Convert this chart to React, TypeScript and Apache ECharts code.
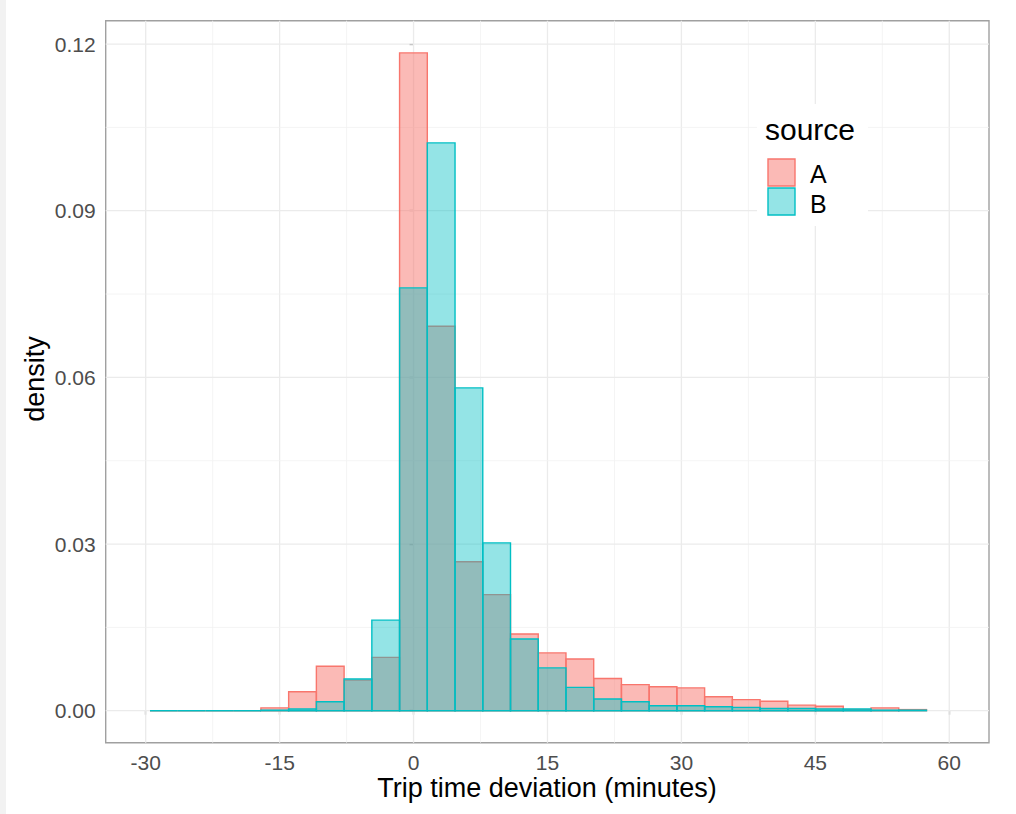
import React, { useEffect, useRef } from "react";
import * as echarts from "echarts";

// Histogram bin edges (minutes) – 28 bins
const binEdges = [
  -29.52, -26.414, -23.308, -20.202, -17.096, -13.99, -10.884, -7.778, -4.672,
  -1.566, 1.54, 4.646, 7.752, 10.858, 13.964, 17.07, 20.176, 23.282, 26.388,
  29.494, 32.6, 35.706, 38.812, 41.918, 45.024, 48.13, 51.236, 54.342, 57.448,
];

// Density per bin, source A
const densityA = [
  0, 0, 0, 0, 0.0005, 0.0034, 0.008, 0.0055, 0.0096, 0.1184, 0.0692, 0.0268,
  0.0209, 0.0138, 0.0104, 0.0093, 0.0058, 0.0047, 0.0043, 0.0041, 0.0025,
  0.002, 0.0017, 0.001, 0.0008, 0.0002, 0.0005, 0.0002,
];

// Density per bin, source B
const densityB = [
  0, 0, 0, 0, 0.0001, 0.0003, 0.0016, 0.0057, 0.0163, 0.0761, 0.1022, 0.0581,
  0.0302, 0.0129, 0.0077, 0.0042, 0.0021, 0.0016, 0.0009, 0.0009, 0.0007,
  0.0006, 0.0004, 0.0004, 0.0003, 0.0003, 0.0001, 0.0001,
];

const xTicks = [-30, -15, 0, 15, 30, 45, 60];
const xMinor = [-22.5, -7.5, 7.5, 22.5, 37.5, 52.5];
const yTicks = [0, 0.03, 0.06, 0.09, 0.12];
const yMinor = [0.015, 0.045, 0.075, 0.105];

const sources = ["A", "B"];
const X_MIN = -34.48;
const X_MAX = 64.45;
const Y_MIN = -0.00576;
const Y_MAX = 0.1242;

const FONT = '"Liberation Sans", Arial, Helvetica, sans-serif';
const COL_A = "#F8766D";
const COL_B = "#00BFC4";
const FILL_A = "rgba(248,118,109,0.5)";
const FILL_B = "rgba(0,191,196,0.42)";

function barData(dens: number[]) {
  return dens.map((d, i) => [binEdges[i], binEdges[i + 1], d]);
}

export default function App() {
  const ref = useRef<HTMLDivElement>(null);
  useEffect(() => {
    if (!ref.current) return;
    const chart = echarts.init(ref.current, undefined, { renderer: "svg" });

    const gridData: any[] = [];
    xTicks.forEach((v) => gridData.push([v, 1, 0]));
    xMinor.forEach((v) => gridData.push([v, 0, 0]));
    yTicks.forEach((v) => gridData.push([v, 1, 1]));
    yMinor.forEach((v) => gridData.push([v, 0, 1]));

    const makeBars = (name: string, fill: string, stroke: string, z: number) => ({
      type: "custom",
      name,
      z,
      data: barData(name === "A" ? densityA : densityB),
      encode: { x: [0, 1], y: 2 },
      renderItem: (params: any, api: any) => {
        const p0 = api.coord([api.value(0), api.value(2)]);
        const p1 = api.coord([api.value(1), 0]);
        return {
          type: "rect",
          shape: { x: p0[0], y: p0[1], width: p1[0] - p0[0], height: p1[1] - p0[1] },
          style: { fill, stroke, lineWidth: 1.4 },
        };
      },
    });

    chart.setOption({
      animation: false,
      backgroundColor: "#ffffff",
      textStyle: { fontFamily: FONT },
      grid: {
        left: 105.7,
        top: 20.7,
        right: 1016 - 989,
        bottom: 814 - 742.7,
        show: true,
        borderColor: "#A0A0A0",
        borderWidth: 1.4,
        backgroundColor: "#ffffff",
      },
      xAxis: {
        type: "value",
        min: X_MIN,
        max: X_MAX,
        axisLine: { show: false },
        splitLine: { show: false },
        axisTick: { show: true, length: 4, customValues: xTicks, lineStyle: { color: "#555", width: 1.2 } },
        axisLabel: {
          customValues: xTicks,
          margin: 9,
          fontSize: 21,
          color: "#4D4D4D",
          fontFamily: FONT,
          formatter: (v: number) => String(v),
        },
      },
      yAxis: {
        type: "value",
        min: Y_MIN,
        max: Y_MAX,
        axisLine: { show: false },
        splitLine: { show: false },
        axisTick: { show: true, length: 4, customValues: yTicks, lineStyle: { color: "#555", width: 1.2 } },
        axisLabel: {
          customValues: yTicks,
          margin: 10,
          fontSize: 21,
          color: "#4D4D4D",
          fontFamily: FONT,
          formatter: (v: number) => v.toFixed(2),
        },
      },
      series: [
        {
          type: "custom",
          name: "grid",
          z: 1,
          silent: true,
          data: gridData,
          encode: { x: 0 },
          renderItem: (params: any, api: any) => {
            const cs = params.coordSys;
            const v = api.value(0);
            const major = api.value(1) === 1;
            const isY = api.value(2) === 1;
            const style = { stroke: major ? "#EBEBEB" : "#F1F1F1", lineWidth: major ? 1.3 : 0.8 };
            if (isY) {
              const p = api.coord([X_MIN, v]);
              return { type: "line", shape: { x1: cs.x, y1: p[1], x2: cs.x + cs.width, y2: p[1] }, style };
            }
            const p = api.coord([v, Y_MIN]);
            return { type: "line", shape: { x1: p[0], y1: cs.y, x2: p[0], y2: cs.y + cs.height }, style };
          },
        },
        makeBars("A", FILL_A, COL_A, 2),
        makeBars("B", FILL_B, COL_B, 3),
      ],
      graphic: [
        { type: "rect", left: 0, top: 0, shape: { width: 6, height: 814 }, style: { fill: "#F2F2F2" }, z: 10 },
        {
          type: "text",
          x: 547,
          y: 788,
          style: { text: "Trip time deviation (minutes)", fontSize: 27, fill: "#000", fontFamily: FONT, textAlign: "center", textVerticalAlign: "middle" },
          z: 10,
        },
        {
          type: "text",
          x: 35,
          y: 379,
          rotation: Math.PI / 2,
          style: { text: "density", fontSize: 27, fill: "#000", fontFamily: FONT, textAlign: "center", textVerticalAlign: "middle" },
          z: 10,
        },
        { type: "rect", shape: { x: 757, y: 104, width: 111, height: 122 }, style: { fill: "#ffffff" }, z: 10 },
        {
          type: "text",
          x: 765,
          y: 129,
          style: { text: "source", fontSize: 30, fill: "#000", fontFamily: FONT, textAlign: "left", textVerticalAlign: "middle" },
          z: 11,
        },
        { type: "rect", shape: { x: 768, y: 159, width: 27, height: 27 }, style: { fill: FILL_A, stroke: COL_A, lineWidth: 1.4 }, z: 11 },
        { type: "rect", shape: { x: 768, y: 188, width: 27, height: 27 }, style: { fill: FILL_B, stroke: COL_B, lineWidth: 1.4 }, z: 11 },
        {
          type: "text",
          x: 810,
          y: 174,
          style: { text: sources[0], fontSize: 25, fill: "#000", fontFamily: FONT, textAlign: "left", textVerticalAlign: "middle" },
          z: 11,
        },
        {
          type: "text",
          x: 810,
          y: 204,
          style: { text: sources[1], fontSize: 25, fill: "#000", fontFamily: FONT, textAlign: "left", textVerticalAlign: "middle" },
          z: 11,
        },
      ],
    });
    return () => chart.dispose();
  }, []);
  return <div ref={ref} style={{ position: "absolute", left: 0, top: 0, width: 1016, height: 814 }} />;
}
